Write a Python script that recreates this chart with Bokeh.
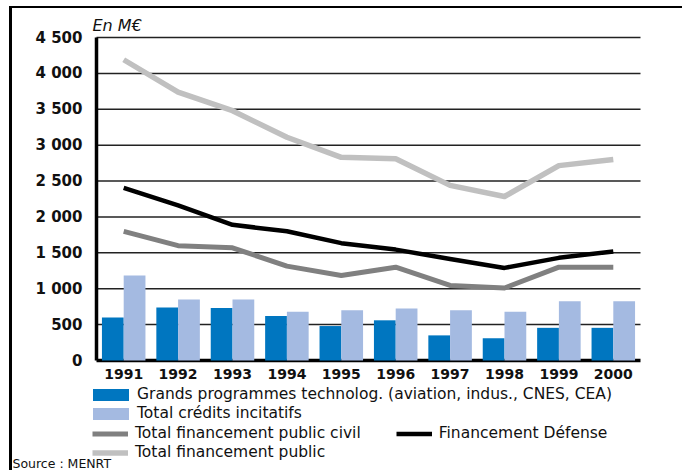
from bokeh.plotting import figure
from bokeh.models import (ColumnDataSource, Range1d, FixedTicker, Legend, LegendItem, Label)
from bokeh.transform import dodge
from bokeh.embed import file_html
from bokeh.resources import INLINE

years = [1991, 1992, 1993, 1994, 1995, 1996, 1997, 1998, 1999, 2000]
grands_programmes = [600, 740, 730, 620, 480, 560, 350, 310, 455, 455]
credits_incitatifs = [1185, 850, 850, 680, 700, 725, 700, 680, 825, 825]
public_civil = [1800, 1600, 1570, 1315, 1185, 1300, 1045, 1010, 1300, 1300]
defense = [2405, 2160, 1890, 1800, 1635, 1545, 1415, 1290, 1430, 1520]
public_total = [4190, 3740, 3480, 3110, 2830, 2810, 2440, 2285, 2715, 2800]
y_ticks = [0, 500, 1000, 1500, 2000, 2500, 3000, 3500, 4000, 4500]
y_tick_labels = ["0", "500", "1 000", "1 500", "2 000", "2 500", "3 000", "3 500", "4 000", "4 500"]

src = ColumnDataSource(dict(year=years, gp=grands_programmes, ci=credits_incitatifs,
                            civ=public_civil, dfn=defense, tot=public_total))

FONT = "DejaVu Sans"
C_GP, C_CI, C_CIV, C_DFN, C_TOT = "#0076C0", "#A4BAE1", "#808080", "#000000", "#C0C0C0"

# layout (pixels inside the canvas): plot area and canvas size
W, H = 673, 464
AX_LEFT, AX_RIGHT, AX_TOP, AX_BOTTOM = 84, 628, 29, 352
x_lo, x_hi = years[0] - 0.5, years[-1] + 0.5
y_lo, y_hi = y_ticks[0], y_ticks[-1]
px_x = (AX_RIGHT - AX_LEFT) / (x_hi - x_lo)
px_y = (AX_BOTTOM - AX_TOP) / (y_hi - y_lo)
x_range = Range1d(x_lo - AX_LEFT / px_x, x_hi + (W - AX_RIGHT) / px_x)
y_range = Range1d(y_lo - (H - AX_BOTTOM) / px_y, y_hi + AX_TOP / px_y)

p = figure(width=W, height=H, output_backend="svg", toolbar_location=None,
           x_range=x_range, y_range=y_range,
           min_border=0, min_border_left=0, min_border_right=0,
           min_border_top=0, min_border_bottom=0)
p.outline_line_color = None
p.styles = {"border-top": "2px solid black", "border-left": "3px solid black",
            "margin-left": "9px", "margin-top": "6px"}

# x axis drawn at y = 0, limited to the category span
xa = p.xaxis[0]
xa.fixed_location = 0
xa.bounds = (x_lo, x_hi)
xa.level = "underlay"
xa.ticker = FixedTicker(ticks=years)
xa.major_label_overrides = {y: str(y) for y in years}
xa.axis_line_color = "black"
xa.axis_line_width = 3.5
xa.major_tick_line_color = None
xa.minor_tick_line_color = None
xa.major_label_standoff = 2
xa.major_label_text_font = FONT
xa.major_label_text_font_style = "bold"
xa.major_label_text_font_size = "14px"
xa.major_label_text_color = "#111111"

ya = p.yaxis[0]
ya.fixed_location = x_lo
ya.bounds = (y_lo, y_hi)
ya.ticker = FixedTicker(ticks=y_ticks)
ya.major_label_overrides = {t: l for t, l in zip(y_ticks, y_tick_labels)}
ya.axis_line_color = "black"
ya.axis_line_width = 3.5
ya.major_tick_line_color = None
ya.minor_tick_line_color = None
ya.major_label_standoff = 8
ya.major_label_text_font = FONT
ya.major_label_text_font_style = "bold"
ya.major_label_text_font_size = "15px"
ya.major_label_text_color = "#111111"

p.grid.visible = False
# horizontal grid lines at the y ticks, across the category span only
p.segment(x0=[x_lo] * len(y_ticks[1:]), x1=[x_hi] * len(y_ticks[1:]),
          y0=y_ticks[1:], y1=y_ticks[1:], line_color="#222222", line_width=1.5)

r_gp = p.vbar(x=dodge("year", -0.2), top="gp", width=0.4, source=src, fill_color=C_GP, line_color=None)
r_ci = p.vbar(x=dodge("year", 0.2), top="ci", width=0.4, source=src, fill_color=C_CI, line_color=None)
r_civ = p.line("year", "civ", source=src, line_color=C_CIV, line_width=5, line_join="round")
r_dfn = p.line("year", "dfn", source=src, line_color=C_DFN, line_width=4.5, line_join="round")
r_tot = p.line("year", "tot", source=src, line_color=C_TOT, line_width=5.5, line_join="round")


def mk_legend(items, loc, gw, gh, standoff, orientation="vertical", spacing=0):
    leg = Legend(items=[LegendItem(label=l, renderers=[r]) for l, r in items], location=loc,
                 orientation=orientation, padding=0, margin=0, spacing=spacing,
                 border_line_alpha=0, background_fill_alpha=0,
                 glyph_width=gw, glyph_height=gh, label_standoff=standoff,
                 label_height=15, label_text_font=FONT, label_text_font_size="15.5px",
                 label_text_color="#111111")
    p.add_layout(leg)


mk_legend([("Grands programmes technolog. (aviation, indus., CNES, CEA)", r_gp)], (76, 69), 45, 15, 4)
mk_legend([("Total crédits incitatifs", r_ci)], (76, 50), 45, 15, 4)
mk_legend([("Total financement public civil", r_civ), ("Financement Défense", r_dfn)],
          (80, 30), 36, 15, 7, orientation="horizontal", spacing=35)
mk_legend([("Total financement public", r_tot)], (80, 11), 36, 15, 7)

p.add_layout(Label(x=x_lo, y=y_hi, x_offset=-4, y_offset=12, text="En M€",
                   text_font=FONT, text_font_style="italic", text_font_size="16px",
                   text_baseline="middle", text_color="#111111"))
p.add_layout(Label(x=0, y=2, x_units="screen", y_units="screen", text="Source : MENRT",
                   text_font=FONT, text_font_size="12.5px", text_baseline="bottom",
                   text_color="#111111"))

open("out.html", "w").write(file_html(p, INLINE))
